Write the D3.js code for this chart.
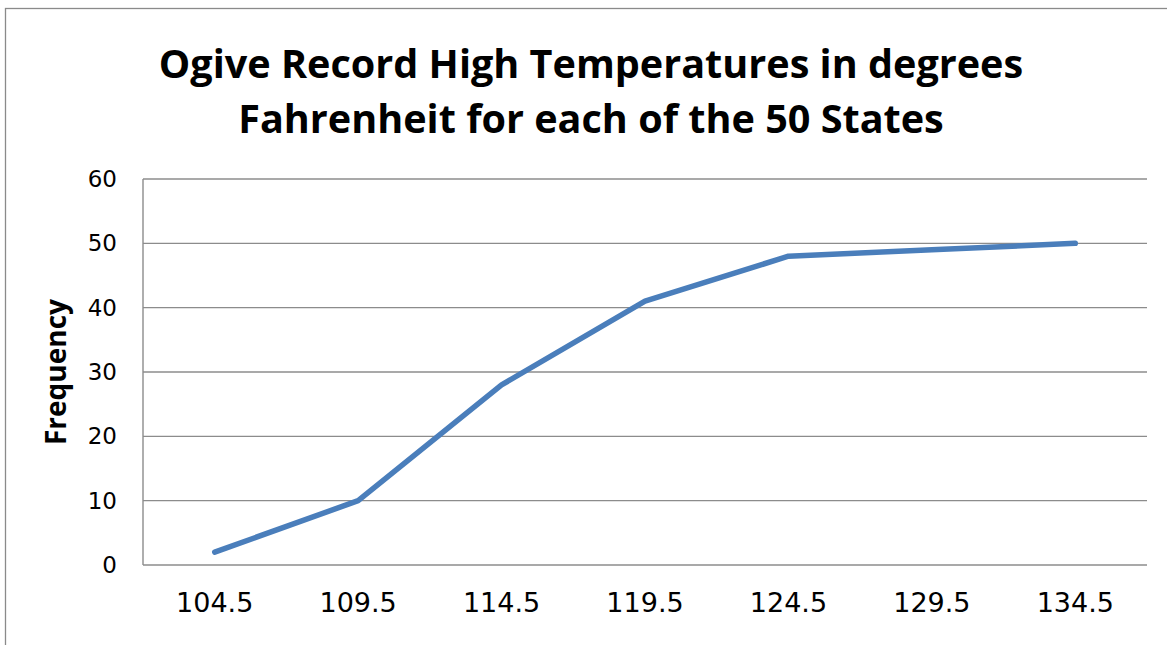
<!DOCTYPE html>
<html><head><meta charset="utf-8">
<script src="https://cdn.jsdelivr.net/npm/d3@7"></script>
<style>body{margin:0;background:#fff}svg{display:block}</style>
</head><body>
<svg id="c" width="1167" height="645"></svg>
<script>
const categories = ["104.5","109.5","114.5","119.5","124.5","129.5","134.5"];
const frequency = [2,10,28,41,48,49,50];
const yTicks = [0,10,20,30,40,50,60];
const titleLines = ["Ogive Record High Temperatures in degrees","Fahrenheit for each of the 50 States"];
const yLabel = "Frequency";

const svg = d3.select("#c");
const W = 1167, H = 645;
const m = {left:143, right:20, top:179, bottom:80};
svg.append("rect").attr("x",5.5).attr("y",8.5).attr("width",W+10).attr("height",H+10)
  .attr("fill","#fff").attr("stroke","#8a8a8a").attr("stroke-width",1.3);

const x = d3.scaleBand().domain(categories).range([m.left, W-m.right]);
const y = d3.scaleLinear().domain([0,60]).range([H-m.bottom, m.top]);

const grid = "#8c8c8c";
svg.append("g").selectAll("line").data(yTicks).join("line")
  .attr("x1",m.left).attr("x2",W-m.right)
  .attr("y1",d=>y(d)).attr("y2",d=>y(d))
  .attr("stroke",grid).attr("stroke-width",1.4);
svg.append("line").attr("x1",m.left).attr("x2",m.left).attr("y1",y(60)).attr("y2",y(0))
  .attr("stroke",grid).attr("stroke-width",1.4);

const yAxis = d3.axisLeft(y).tickValues(yTicks).tickSize(0).tickPadding(0);
const gy = svg.append("g").attr("transform",`translate(${m.left-26},0)`).call(yAxis);
gy.select(".domain").remove();
gy.selectAll("text").attr("font-family","DejaVu Sans, Verdana, sans-serif").attr("font-size",23).attr("fill","#000");

const xAxis = d3.axisBottom(x).tickSize(0).tickPadding(0);
const gx = svg.append("g").attr("transform",`translate(0,${y(0)+28})`).call(xAxis);
gx.select(".domain").remove();
gx.selectAll("text").attr("font-family","DejaVu Sans, Verdana, sans-serif").attr("font-size",27).attr("fill","#000");

const line = d3.line().x((d,i)=>x(categories[i])+x.bandwidth()/2).y(d=>y(d));
svg.append("path").datum(frequency).attr("d",line).attr("fill","none")
  .attr("stroke","#4a7ebb").attr("stroke-width",5.5).attr("stroke-linecap","round").attr("stroke-linejoin","round");

svg.append("g").selectAll("text").data(titleLines).join("text")
  .attr("x",591).attr("y",(d,i)=>78+i*55).attr("text-anchor","middle")
  .attr("font-family","Open Sans, sans-serif").attr("font-weight","bold").attr("font-size",39.6)
  .attr("fill","#000").text(d=>d);

svg.append("text").attr("transform",`translate(66,${(y(0)+y(60))/2}) rotate(-90)`)
  .attr("text-anchor","middle").attr("font-family","Open Sans, sans-serif").attr("font-weight","bold")
  .attr("font-size",28).attr("fill","#000").text(yLabel);
</script>
</body></html>
